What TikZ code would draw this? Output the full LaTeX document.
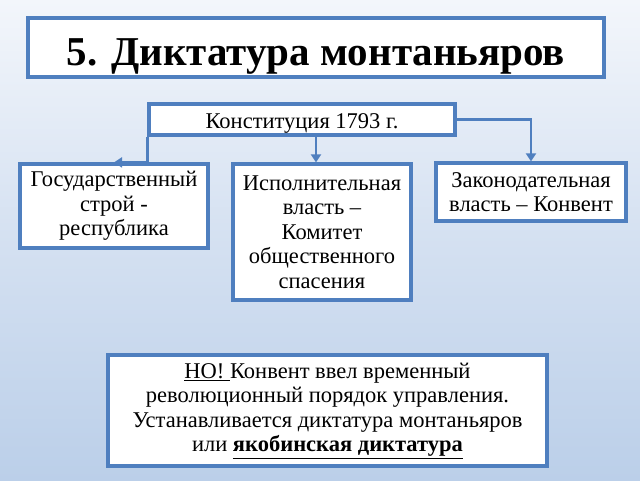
\documentclass[tikz,border=0pt]{standalone}
\usepackage{fontspec}
\setmainfont{Liberation Serif}
\usetikzlibrary{arrows.meta}
\definecolor{rama}{HTML}{4F7FBF}
\definecolor{fonverh}{HTML}{F3F6FB}
\definecolor{fonniz}{HTML}{BBCFE9}
\begin{document}
\begin{tikzpicture}[x=1pt,y=-1pt,
  blok/.style={draw=rama,line width=3.2pt,fill=white,inner sep=2pt,align=center,font=\fontsize{22.5}{24.5}\selectfont},
  strel/.style={draw=rama,line width=2.4pt,-{Triangle[width=10pt,length=8pt]}}]
\useasboundingbox (0,0) rectangle (640,480);
\shade[top color=fonverh,bottom color=fonniz,middle color=fonniz!55!fonverh] (0,0) rectangle (640,480);
\node[blok,minimum width=576,minimum height=59,text height=35pt,text depth=0pt,font=\bfseries\fontsize{41}{46}\selectfont] (zag) at (316,47.5) {5. Диктатура монтаньяров};
\node[blok,minimum width=306,minimum height=31,inner sep=0pt,text height=17pt,text depth=0pt] (konst) at (302,119.5) {Конституция 1793 г.};
\node[blok,minimum width=188,minimum height=84] (strukt) at (114,206) {Государственный\\строй -\\республика};
\node[blok,minimum width=178,minimum height=136] (ispoln) at (322,232) {Исполнительная\\власть –\\Комитет\\общественного\\спасения};
\node[blok,minimum width=190,minimum height=58] (zakon) at (531,192) {Законодательная\\власть – Конвент};
\node[blok,minimum width=439,minimum height=111] (no) at (327.5,410.5) {\underline{НО! }Конвент ввел временный\\революционный порядок управления.\\Устанавливается диктатура монтаньяров\\или \underline{\textbf{якобинская диктатура}}};
\draw[strel] (konst.south west) |- (strukt.north);
\draw[strel] ([xshift=-6pt]ispoln.north |- konst.south) -- ([xshift=-6pt]ispoln.north);
\draw[strel] (konst.east) -| (zakon.north);
\end{tikzpicture}
\end{document}
